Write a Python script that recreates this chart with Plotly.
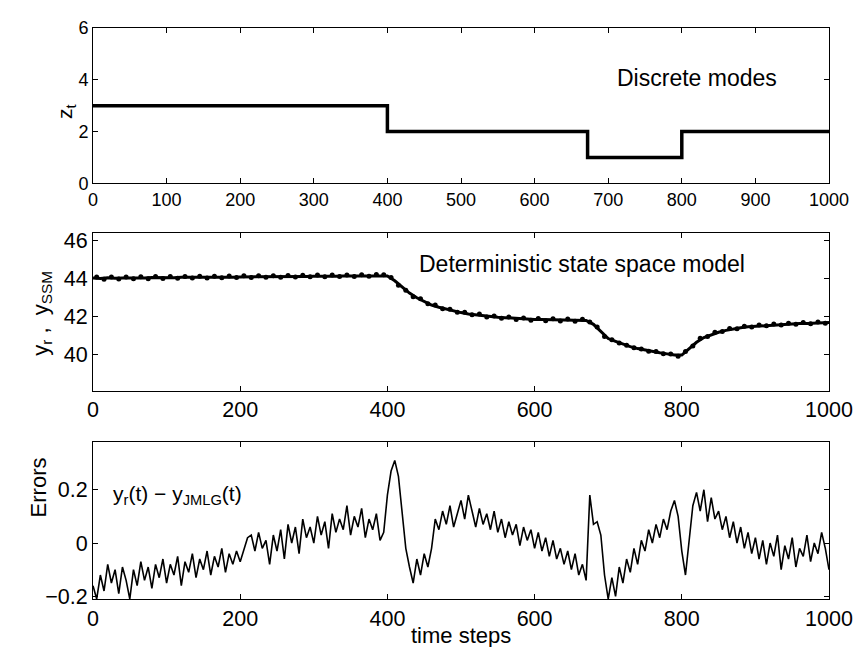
import plotly.graph_objects as go

# ---------------- data ----------------
mode_steps = [0, 400, 672, 800, 1000]
mode_values = [3, 2, 1, 2, 2]

yr_steps = list(range(0, 1001, 10))
y_r = [
    44.05, 44.02, 44.06, 44.03, 44.05, 44.04, 44.06, 44.05, 44.07, 44.06,
    44.07, 44.06, 44.08, 44.07, 44.08, 44.08, 44.09, 44.08, 44.10, 44.09,
    44.10, 44.10, 44.11, 44.10, 44.12, 44.11, 44.12, 44.12, 44.13, 44.13,
    44.14, 44.13, 44.15, 44.14, 44.15, 44.15, 44.16, 44.16, 44.17, 44.18,
    44.15, 43.90, 43.55, 43.25, 43.00, 42.80, 42.62, 42.50, 42.40, 42.30,
    42.22, 42.15, 42.10, 42.05, 42.00, 41.97, 41.95, 41.92, 41.90, 41.88,
    41.86, 41.85, 41.84, 41.83, 41.82, 41.82, 41.81, 41.80, 41.60, 41.20,
    40.85, 40.70, 40.55, 40.42, 40.32, 40.24, 40.16, 40.10, 40.04, 39.98,
    39.98, 40.30, 40.65, 40.90, 41.05, 41.18, 41.28, 41.36, 41.42, 41.47,
    41.50, 41.53, 41.56, 41.58, 41.60, 41.62, 41.64, 41.65, 41.67, 41.68,
    41.70,
]

ssm_steps = list(range(5, 1000, 10))
y_ssm = [
    44.10, 43.98, 44.10, 43.99, 44.10, 44.00, 44.11, 44.01, 44.12, 44.02,
    44.12, 44.03, 44.13, 44.04, 44.14, 44.05, 44.14, 44.06, 44.15, 44.07,
    44.16, 44.07, 44.16, 44.08, 44.17, 44.09, 44.18, 44.10, 44.19, 44.11,
    44.20, 44.11, 44.20, 44.12, 44.21, 44.13, 44.22, 44.14, 44.23, 44.22,
    44.07, 43.66, 43.40, 43.05, 42.95, 42.68, 42.62, 42.42, 42.40, 42.24,
    42.24, 42.10, 42.14, 41.99, 42.04, 41.92, 41.99, 41.86, 41.94, 41.82,
    41.91, 41.79, 41.89, 41.77, 41.88, 41.76, 41.87, 41.72, 41.46, 40.96,
    40.78, 40.62, 40.50, 40.36, 40.30, 40.18, 40.16, 40.05, 40.04, 39.91,
    40.16, 40.46, 40.86, 40.96, 41.18, 41.22, 41.38, 41.37, 41.50, 41.46,
    41.57, 41.52, 41.62, 41.57, 41.66, 41.60, 41.70, 41.63, 41.72, 41.66,
]

err_steps = list(range(0, 1001, 5))
errors = [
    -0.16, -0.21, -0.12, -0.18, -0.08, -0.15, -0.10, -0.19, -0.09, -0.14,
    -0.21, -0.10, -0.16, -0.07, -0.14, -0.09, -0.17, -0.08, -0.13, -0.06,
    -0.15, -0.08, -0.12, -0.05, -0.16, -0.07, -0.11, -0.04, -0.13, -0.06,
    -0.10, -0.03, -0.12, -0.05, -0.09, -0.02, -0.11, -0.04, -0.08, -0.03,
    -0.07, -0.02, 0.02, 0.03, -0.03, 0.04, -0.02, 0.01, -0.08, 0.03,
    -0.03, 0.05, -0.06, 0.07, 0.00, 0.06, -0.04, 0.09, 0.02, 0.06,
    0.00, 0.10, 0.03, 0.08, -0.02, 0.11, 0.04, 0.09, 0.05, 0.14,
    0.03, 0.10, 0.06, 0.13, 0.02, 0.09, 0.05, 0.11, 0.01, 0.04,
    0.18, 0.27, 0.31, 0.25, 0.10, -0.02, -0.09, -0.15, -0.06, -0.12,
    -0.04, -0.09, -0.02, 0.09, 0.05, 0.12, 0.07, 0.14, 0.06, 0.11,
    0.16, 0.09, 0.18, 0.12, 0.06, 0.13, 0.07, 0.11, 0.05, 0.12,
    0.04, 0.09, 0.02, 0.08, 0.03, 0.07, -0.01, 0.06, 0.01, 0.05,
    -0.02, 0.04, -0.03, 0.02, -0.05, 0.01, -0.06, -0.02, -0.08, -0.03,
    -0.10, -0.04, -0.12, -0.08, -0.14, 0.18, 0.07, 0.08, 0.03, -0.12,
    -0.21, -0.13, -0.20, -0.09, -0.15, -0.06, -0.11, -0.02, -0.08, 0.01,
    -0.03, 0.05, 0.00, 0.07, 0.02, 0.09, 0.05, 0.12, 0.16, 0.10,
    -0.03, -0.12, 0.02, 0.14, 0.19, 0.12, 0.20, 0.08, 0.17, 0.09,
    0.12, 0.05, 0.10, 0.02, 0.08, 0.00, 0.06, -0.02, 0.04, -0.04,
    0.02, -0.06, 0.01, -0.08, 0.00, -0.05, 0.03, -0.10, -0.01, -0.06,
    0.02, -0.09, -0.02, -0.05, 0.03, -0.07, 0.00, -0.04, 0.04, -0.02,
    -0.10,
]

top_xticks = list(range(0, 1001, 100))
low_xticks = list(range(0, 1001, 200))
top_yticks = [0, 2, 4, 6]
mid_yticks = [40, 42, 44, 46]
err_yticks = [-0.2, 0, 0.2]
err_yticklabels = ["\u22120.2", "0", "0.2"]

# ---------------- figure ----------------
FONT = "Liberation Sans, Arial, sans-serif"
fig = go.Figure()

fig.add_trace(go.Scatter(x=mode_steps, y=mode_values, mode="lines",
                         line=dict(color="black", width=3.5, shape="hv"),
                         xaxis="x", yaxis="y", showlegend=False))
fig.add_trace(go.Scatter(x=yr_steps, y=y_r, mode="lines",
                         line=dict(color="black", width=3),
                         xaxis="x2", yaxis="y2", showlegend=False))
fig.add_trace(go.Scatter(x=ssm_steps, y=y_ssm, mode="markers",
                         marker=dict(color="black", size=5, symbol="circle"),
                         xaxis="x2", yaxis="y2", showlegend=False))
fig.add_trace(go.Scatter(x=err_steps, y=errors, mode="lines",
                         line=dict(color="black", width=1.6),
                         xaxis="x3", yaxis="y3", showlegend=False))

axis_common = dict(showline=True, linecolor="black", linewidth=1, mirror="ticks",
                   ticks="inside", ticklen=5, tickcolor="black", showgrid=False,
                   zeroline=False)

# page body has an 8px margin, so the figure is sized to fit the window without scrolling
fig.update_layout(
    width=855, height=639,
    paper_bgcolor="white", plot_bgcolor="white",
    margin=dict(l=85, r=26, t=10, b=48),
    font=dict(family=FONT, color="black", size=21),
    xaxis=dict(domain=[0, 1], range=[0, 1000], tickvals=top_xticks, anchor="y",
               tickfont=dict(size=18), **axis_common),
    yaxis=dict(domain=[0.7281, 1], range=[0, 6], tickvals=top_yticks, anchor="x",
               tickfont=dict(size=18), **axis_common),
    xaxis2=dict(domain=[0, 1], range=[0, 1000], tickvals=low_xticks, anchor="y2",
                tickfont=dict(size=21.5), **axis_common),
    yaxis2=dict(domain=[0.3649, 0.6403], range=[38.1, 46.4], tickvals=mid_yticks,
                anchor="x2", tickfont=dict(size=21.5), **axis_common),
    xaxis3=dict(domain=[0, 1], range=[0, 1000], tickvals=low_xticks, anchor="y3",
                tickfont=dict(size=21.5), **axis_common),
    yaxis3=dict(domain=[0, 0.2754], range=[-0.21, 0.38], tickvals=err_yticks,
                ticktext=err_yticklabels, anchor="x3", tickfont=dict(size=21.5),
                **axis_common),
    annotations=[
        dict(text="z<sub>t</sub>", xref="paper", yref="paper", x=-0.058, y=0.87,
             textangle=-90, showarrow=False, font=dict(size=21)),
        dict(text="y<sub>r</sub> ,  y<sub>SSM</sub>", xref="paper", yref="paper",
             x=-0.092, y=0.50, textangle=-90, showarrow=False, font=dict(size=22)),
        dict(text="Errors", xref="paper", yref="paper", x=-0.094, y=0.14,
             textangle=-90, showarrow=False, font=dict(size=22)),
        dict(text="time steps", xref="paper", yref="paper", x=0.5, y=-0.064,
             yanchor="middle", showarrow=False, font=dict(size=22)),
        dict(text="Discrete modes", xref="x", yref="y", x=820, y=4.05,
             showarrow=False, font=dict(size=23)),
        dict(text="Deterministic state space model", xref="x2", yref="y2",
             x=665, y=44.8, showarrow=False, font=dict(size=23)),
        dict(text="y<sub>r</sub>(t) \u2212 y<sub>JMLG</sub>(t)", xref="x3", yref="y3",
             x=25, y=0.18, xanchor="left", showarrow=False, font=dict(size=21)),
    ],
)

fig.write_html("out.html")
